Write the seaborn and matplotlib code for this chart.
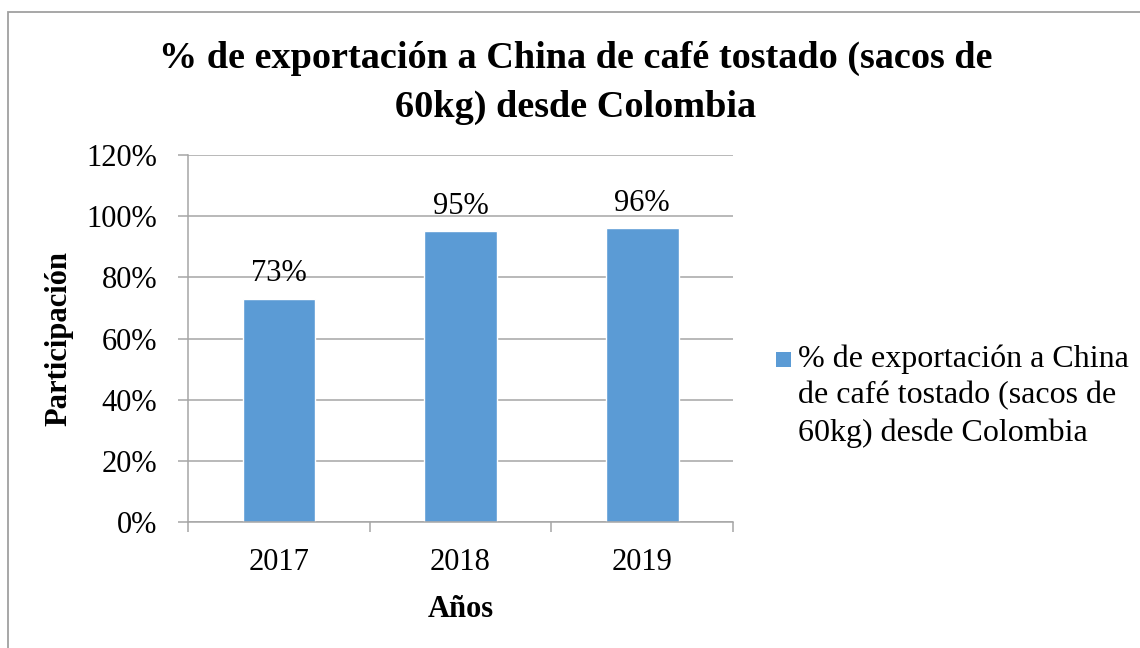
import matplotlib
matplotlib.use("Agg")
import matplotlib.pyplot as plt
import matplotlib.patches as mpatches
from matplotlib.legend_handler import HandlerPatch
from matplotlib.ticker import FuncFormatter
import seaborn as sns
import pandas as pd

years = ["2017", "2018", "2019"]
shares = [0.73, 0.95, 0.96]
series_name = "% de exportación a China de café tostado (sacos de 60kg) desde Colombia"
legend_label = "% de exportación a China\nde café tostado (sacos de\n60kg) desde Colombia"
title = "% de exportación a China de café tostado (sacos de\n60kg) desde Colombia"
y_ticks = [0, 0.2, 0.4, 0.6, 0.8, 1.0, 1.2]

sns.set_theme(style="white")
plt.rcParams["font.family"] = ["Liberation Serif", "DejaVu Serif"]
plt.rcParams["text.color"] = "black"
plt.rcParams["axes.labelcolor"] = "black"
plt.rcParams["xtick.labelcolor"] = "black"
plt.rcParams["ytick.labelcolor"] = "black"

bar_color = "#5B9BD5"
grid_color = "#A6A6A6"

fig = plt.figure(figsize=(11.4, 6.48), dpi=100)
ax = fig.add_axes([188 / 1140, 1 - 522 / 648, (733 - 188) / 1140, (522 - 155) / 648])

df = pd.DataFrame({"Año": years, "Participación": shares})
sns.barplot(data=df, x="Año", y="Participación", color=bar_color, width=0.4,
            saturation=1, ax=ax, label=legend_label)

ax.set_ylim(0, 1.2)
ax.set_xlim(-0.5, 2.5)
ax.set_yticks(y_ticks)
ax.yaxis.set_major_formatter(FuncFormatter(lambda v, p: f"{v*100:.0f}%"))
ax.grid(axis="y", color=grid_color, linewidth=1.1)
ax.set_axisbelow(True)

# x ticks at category boundaries, labels at centers
ax.set_xticks([-0.5, 0.5, 1.5, 2.5])
ax.set_xticklabels([])
ax.set_xticks([0, 1, 2], minor=True)
ax.set_xticklabels(years, minor=True)
ax.tick_params(axis="x", which="major", length=7.2, width=1.1, color=grid_color,
               direction="out", bottom=True)
ax.tick_params(axis="x", which="minor", length=0, labelsize=22, pad=19,
               labelcolor="black")
ax.tick_params(axis="y", length=7.2, width=1.1, color=grid_color, direction="out",
               left=True, labelsize=22, pad=15, labelcolor="black")

for s in ["top", "right"]:
    ax.spines[s].set_visible(False)
for s in ["left", "bottom"]:
    ax.spines[s].set_color(grid_color)
    ax.spines[s].set_linewidth(1.1)

ax.set_xlabel("Años", fontsize=22, fontweight="bold", labelpad=12.5, color="black")
ax.set_ylabel("Participación", fontsize=22, fontweight="bold", labelpad=9, color="black")

for c in ax.containers:
    ax.bar_label(c, labels=[f"{v*100:.0f}%" for v in shares], fontsize=22,
                 padding=7.5, color="black")

# legend: small square aligned with the first line of the wrapped label
LEG_FS = 23
LEG_LS = 1.33
SQ = 11.0  # points


def top_square(legend, orig_handle, xdescent, ydescent, width, height, fontsize):
    step = 0.217 * fontsize + 0.70 * fontsize * LEG_LS
    y0 = step + 0.1 * fontsize
    return mpatches.Rectangle((-xdescent, y0), SQ, SQ)


def color_square(legend_handle, orig_handle):
    legend_handle.set_facecolor(bar_color)
    legend_handle.set_edgecolor("none")


handles, labels = ax.get_legend_handles_labels()
leg = ax.legend(handles, labels, loc="center left",
                bbox_to_anchor=(776 / 1140, 1 - 396 / 648),
                bbox_transform=fig.transFigure, frameon=False, fontsize=LEG_FS,
                handlelength=SQ / LEG_FS, handleheight=0.7, handletextpad=0.22,
                borderpad=0, borderaxespad=0, labelcolor="black",
                handler_map={type(handles[0]): HandlerPatch(patch_func=top_square,
                                                            update_func=color_square)})
for t in leg.get_texts():
    t.set_linespacing(LEG_LS)

fig.text(576 / 1140, 1 - 41 / 648, title, ha="center", va="top", fontsize=27.5,
         fontweight="bold", linespacing=1.5, color="black")

border = mpatches.Rectangle((8 / 1140, -0.1), 1.2, 1.1 - 12 / 648,
                            transform=fig.transFigure, fill=False,
                            edgecolor="#A0A0A0", linewidth=1.3)
fig.add_artist(border)

fig.savefig("out.png", dpi=100, facecolor="white")
